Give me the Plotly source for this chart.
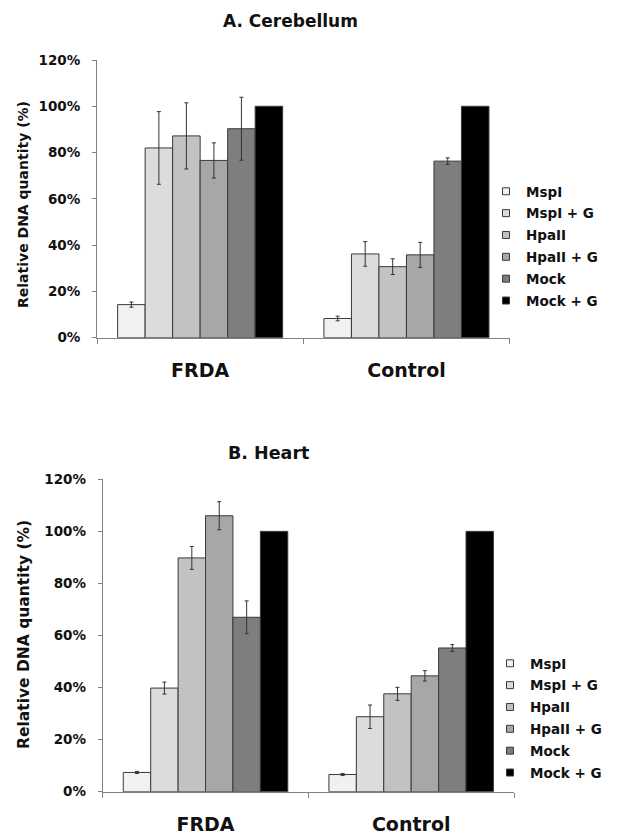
import plotly.graph_objects as go

groups = ["FRDA", "Control"]
series = ["MspI", "MspI + G", "HpaII", "HpaII + G", "Mock", "Mock + G"]
colors = ["#f1f1f1", "#dcdcdc", "#c2c2c2", "#a7a7a7", "#7e7e7e", "#000000"]

# A. Cerebellum  (values in %, per series: [FRDA, Control])
cereb_vals = {
    "MspI":      [14.3, 8.3],
    "MspI + G":  [82.0, 36.2],
    "HpaII":     [87.2, 30.7],
    "HpaII + G": [76.6, 35.8],
    "Mock":      [90.3, 76.3],
    "Mock + G":  [100.0, 100.0],
}
cereb_err = {
    "MspI":      [1.1, 1.0],
    "MspI + G":  [15.7, 5.3],
    "HpaII":     [14.3, 3.4],
    "HpaII + G": [7.6, 5.4],
    "Mock":      [13.6, 1.4],
    "Mock + G":  [0.0, 0.0],
}

# B. Heart
heart_vals = {
    "MspI":      [7.4, 6.6],
    "MspI + G":  [39.8, 28.8],
    "HpaII":     [89.8, 37.6],
    "HpaII + G": [106.0, 44.5],
    "Mock":      [67.0, 55.2],
    "Mock + G":  [100.0, 100.0],
}
heart_err = {
    "MspI":      [0.4, 0.4],
    "MspI + G":  [2.3, 4.5],
    "HpaII":     [4.4, 2.5],
    "HpaII + G": [5.4, 2.0],
    "Mock":      [6.3, 1.3],
    "Mock + G":  [0.0, 0.0],
}

y_ticks = [0, 20, 40, 60, 80, 100, 120]
y_ticklabels = ["0%", "20%", "40%", "60%", "80%", "100%", "120%"]

FONT = "DejaVu Sans"
W, H = 618, 835
OFF = 8  # page body margin offset

fig = go.Figure()

def add_panel(vals, errs, xa, ya, legend):
    for s, c in zip(series, colors):
        e = errs[s]
        fig.add_trace(go.Bar(
            x=groups, y=vals[s], name=s,
            marker=dict(color=c, line=dict(color="#3a3a3a", width=1)),
            error_y=dict(type="data", array=e, visible=any(v > 0 for v in e),
                         color="#333333", thickness=1, width=2),
            xaxis=xa, yaxis=ya, legend=legend, legendgroup=legend + s,
            showlegend=False,
        ))
        # legend entry with a small square like the reference
        fig.add_trace(go.Scatter(
            x=[None], y=[None], mode="markers", name=s,
            marker=dict(symbol="square", size=7, color=c,
                        line=dict(color="#3a3a3a", width=1)),
            xaxis=xa, yaxis=ya, legend=legend, legendgroup=legend + s,
            showlegend=True,
        ))

add_panel(cereb_vals, cereb_err, "x", "y", "legend")
add_panel(heart_vals, heart_err, "x2", "y2", "legend2")

def px_x(p):
    return (p - OFF) / W

def px_y(p):
    return 1 - (p - OFF) / H

tickfont = dict(family=FONT, size=13.5, color="#111111", weight="bold")
catfont = dict(family=FONT, size=19, color="#111111", weight="bold")

yax_common = dict(
    range=[0, 120], tickvals=y_ticks, ticktext=y_ticklabels,
    showgrid=False, zeroline=False, showline=True, linecolor="#808080",
    linewidth=1, ticks="outside", ticklen=4, tickcolor="#808080",
    tickfont=tickfont, ticklabelstandoff=9, fixedrange=True,
)
xax_common = dict(
    type="category", showgrid=False, zeroline=False, showline=True,
    linecolor="#808080", linewidth=1, ticks="outside", tickson="boundaries",
    ticklen=5, tickcolor="#808080", tickfont=catfont, ticklabelstandoff=15,
    fixedrange=True,
)

legend_common = dict(
    font=dict(family=FONT, size=13.5, color="#111111", weight="bold"),
    bgcolor="rgba(0,0,0,0)", xanchor="left", yanchor="top",
    tracegroupgap=1.3, itemclick=False, itemdoubleclick=False,
)

fig.update_layout(
    width=W, height=H,
    margin=dict(l=0, r=0, t=0, b=0, autoexpand=False),
    paper_bgcolor="white", plot_bgcolor="white",
    barmode="group", bargap=0.2, bargroupgap=0,
    showlegend=True,
    xaxis=dict(domain=[px_x(97), px_x(509.6)], anchor="y", **xax_common),
    yaxis=dict(domain=[px_y(337.7), px_y(60)], anchor="x", **yax_common),
    xaxis2=dict(domain=[px_x(102.7), px_x(514)], anchor="y2", **xax_common),
    yaxis2=dict(domain=[px_y(791.7), px_y(479.3)], anchor="x2", **yax_common),
    legend=dict(x=px_x(486), y=px_y(176), **legend_common),
    legend2=dict(x=px_x(490), y=px_y(648), **legend_common),
    annotations=[
        dict(text="A. Cerebellum", x=px_x(290), y=px_y(21), xref="paper", yref="paper",
             showarrow=False, xanchor="center", yanchor="middle",
             font=dict(family=FONT, size=17, color="#111111", weight="bold")),
        dict(text="B. Heart", x=px_x(268), y=px_y(453), xref="paper", yref="paper",
             showarrow=False, xanchor="center", yanchor="middle",
             font=dict(family=FONT, size=17.5, color="#111111", weight="bold")),
        dict(text="Relative DNA quantity (%)", x=px_x(23), y=px_y(205),
             xref="paper", yref="paper", showarrow=False, textangle=-90,
             xanchor="center", yanchor="middle",
             font=dict(family=FONT, size=14, color="#111111", weight="bold")),
        dict(text="Relative DNA quantity (%)", x=px_x(24), y=px_y(635),
             xref="paper", yref="paper", showarrow=False, textangle=-90,
             xanchor="center", yanchor="middle",
             font=dict(family=FONT, size=15.5, color="#111111", weight="bold")),
    ],
)

fig.write_html("out.html")
